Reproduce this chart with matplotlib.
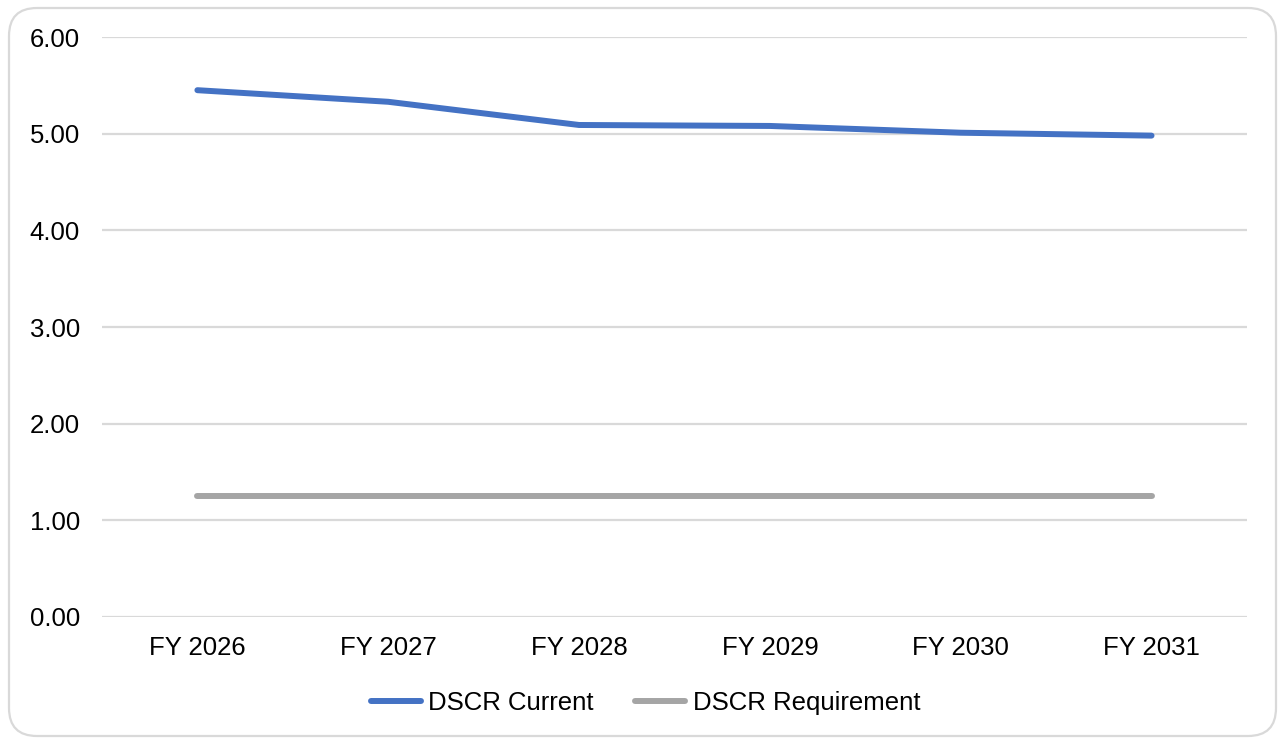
import matplotlib
matplotlib.use("Agg")
import matplotlib.pyplot as plt
from matplotlib.patches import FancyBboxPatch

years = ["FY 2026", "FY 2027", "FY 2028", "FY 2029", "FY 2030", "FY 2031"]
dscr_current = [5.45, 5.33, 5.09, 5.08, 5.01, 4.98]
dscr_requirement = [1.25, 1.25, 1.25, 1.25, 1.25, 1.25]

plt.rcParams["font.family"] = ["Liberation Sans", "DejaVu Sans"]

fig = plt.figure(figsize=(12.78, 7.39), dpi=100)
ax = fig.add_axes([0.0798, 0.1651, 0.8959, 0.7848])

# rounded outline around the whole chart
frame = FancyBboxPatch((0.09, 0.03), 12.67, 7.28,
                       boxstyle="round,pad=0,rounding_size=0.28",
                       transform=fig.dpi_scale_trans, fill=False,
                       edgecolor="#d9d9d9", linewidth=1.6)
fig.patches.append(frame)

x = range(len(years))
ax.plot(x, dscr_current, color="#4472C4", lw=4.3, solid_capstyle="round",
        label="DSCR Current", zorder=3)
ax.plot(x, dscr_requirement, color="#A5A5A5", lw=4.3, solid_capstyle="round",
        label="DSCR Requirement", zorder=3)

ax.set_xlim(-0.5, len(years) - 0.5)
ax.set_ylim(0, 6)
ax.set_yticks(range(0, 7))
ax.set_yticklabels([f"{v:.2f}" for v in range(0, 7)])
ax.set_xticks(list(x))
ax.set_xticklabels(years)
ax.yaxis.grid(True, color="#d9d9d9", lw=1.6)
ax.set_axisbelow(True)
for s in ax.spines.values():
    s.set_visible(False)
ax.tick_params(axis="both", length=0, labelsize=18.5, colors="#000000")
ax.tick_params(axis="y", pad=16)
ax.tick_params(axis="x", pad=14)

fig.legend(loc="center", bbox_to_anchor=(0.505, 1 - 703 / 739), ncol=2,
           frameon=False, fontsize=18.5, handlelength=1.95,
           handletextpad=0.3, columnspacing=1.6)

fig.savefig("out.png", dpi=100)
